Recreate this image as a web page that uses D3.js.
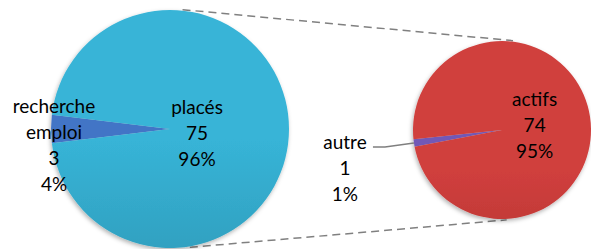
<!DOCTYPE html>
<html>
<head>
  <meta charset="utf-8">
  <title>placés / actifs</title>
  <script src="https://d3js.org/d3.v7.min.js"></script>
  <style>
    body { margin: 0; background: #fff; }
    text { font-family: Lato, "Open Sans", sans-serif; font-size: 19px; fill: #000; }
  </style>
</head>
<body>
<script>
// main pie
var mainCategories = ['recherche emploi', 'placés'];
var mainValues = [3, 75];
var mainPercents = ['4%', '96%'];
// second pie (breakdown of "placés")
var subCategories = ['autre', 'actifs'];
var subValues = [1, 74];
var subPercents = ['1%', '95%'];

var width = 591, height = 249;
var lineH = 26;

var svg = d3.select('body').append('svg')
  .attr('width', width).attr('height', height);

var defs = svg.append('defs');

function grad(id, top, bottom, cy, r) {
  var g = defs.append('linearGradient').attr('id', id)
    .attr('gradientUnits', 'userSpaceOnUse')
    .attr('x1', 0).attr('x2', 0).attr('y1', cy - r).attr('y2', cy + r);
  g.append('stop').attr('offset', '0%').attr('stop-color', top);
  g.append('stop').attr('offset', '100%').attr('stop-color', bottom);
}

var f = defs.append('filter').attr('id', 'shadow')
  .attr('x', '-20%').attr('y', '-20%').attr('width', '140%').attr('height', '140%');
f.append('feDropShadow').attr('dx', -1).attr('dy', 2).attr('stdDeviation', 2)
  .attr('flood-color', '#000').attr('flood-opacity', 0.3);

var left = { cx: 170, cy: 129, r: 119 };
var right = { cx: 502, cy: 130, r: 89 };

grad('gBlue', '#4374c6', '#355fab', left.cy, left.r);
grad('gCyan', '#37b4d7', '#2a8ba7', left.cy, left.r);
grad('gPurple', '#7259b6', '#6247a3', right.cy, right.r);
grad('gRed', '#d03f3d', '#a22d2b', right.cy, right.r);

var mainFill = ['url(#gBlue)', 'url(#gCyan)'];
var subFill = ['url(#gPurple)', 'url(#gRed)'];

// connector lines (dashed)
function pt(c, a, rr) {
  return [c.cx + rr * Math.sin(a), c.cy - rr * Math.cos(a)];
}
var deg = Math.PI / 180;
var conn = [
  [pt(left, 6 * deg, left.r + 1), pt(right, 7 * deg, right.r + 1)],
  [pt(left, 170.5 * deg, left.r + 1), pt(right, 177 * deg, right.r + 1)]
];
svg.selectAll('line.conn').data(conn).enter().append('line')
  .attr('class', 'conn')
  .attr('x1', function(d) { return d[0][0]; })
  .attr('y1', function(d) { return d[0][1]; })
  .attr('x2', function(d) { return d[1][0]; })
  .attr('y2', function(d) { return d[1][1]; })
  .attr('stroke', '#808080').attr('stroke-width', 1.5)
  .attr('stroke-dasharray', '8,5');

// main pie, small slice centred on the left
var mainTotal = d3.sum(mainValues);
var a0 = mainValues[0] / mainTotal * 2 * Math.PI;
var pieMain = d3.pie().sort(null)
  .startAngle(1.5 * Math.PI - a0 / 2).endAngle(3.5 * Math.PI - a0 / 2);
var arcMain = d3.arc().innerRadius(0).outerRadius(left.r);

var gL = svg.append('g').attr('transform', 'translate(' + left.cx + ',' + left.cy + ')');
gL.append('g').attr('filter', 'url(#shadow)')
  .selectAll('path').data(pieMain(mainValues)).enter().append('path')
  .attr('d', arcMain)
  .attr('fill', function(d, i) { return mainFill[i]; });

// second pie, "autre" slice pointing left and slightly down
var subTotal = d3.sum(subValues);
var b0 = subValues[0] / subTotal * 2 * Math.PI;
var subMid = 261.6 * deg;
var pieSub = d3.pie().sort(null)
  .startAngle(subMid - b0 / 2).endAngle(subMid - b0 / 2 + 2 * Math.PI);
var arcSub = d3.arc().innerRadius(0).outerRadius(right.r);

var gR = svg.append('g').attr('transform', 'translate(' + right.cx + ',' + right.cy + ')');
gR.append('g').attr('filter', 'url(#shadow)')
  .selectAll('path').data(pieSub(subValues)).enter().append('path')
  .attr('d', arcSub)
  .attr('fill', function(d, i) { return subFill[i]; });

// labels
function label(g, x, y, lines) {
  var t = g.append('text').attr('text-anchor', 'middle');
  var y0 = y - (lines.length - 1) * lineH / 2;
  lines.forEach(function(s, i) {
    t.append('tspan').attr('x', x).attr('y', y0 + i * lineH).attr('dy', '0.35em').text(s);
  });
}

var mArcs = pieMain(mainValues);
var sArcs = pieSub(subValues);

// inside labels at the centroid of a small ring
var inMain = d3.arc().innerRadius(27).outerRadius(27);
var inSub = d3.arc().innerRadius(33).outerRadius(33);
var cM = inMain.centroid(mArcs[1]);
label(gL, cM[0], cM[1] + 4, [mainCategories[1], mainValues[1], mainPercents[1]]);
var cS = inSub.centroid(sArcs[1]);
label(gR, cS[0], cS[1], [subCategories[1], subValues[1], subPercents[1]]);

// "recherche emploi" label near the left edge
var edgeMain = d3.arc().innerRadius(left.r - 3).outerRadius(left.r - 3);
var cE = edgeMain.centroid(mArcs[0]);
var words = mainCategories[0].split(' ');
label(gL, cE[0], cE[1] + 16, [words[0], words[1], mainValues[0], mainPercents[0]]);

// "autre" label with leader line
var edgeSub = d3.arc().innerRadius(right.r).outerRadius(right.r);
var cA = edgeSub.centroid(sArcs[0]);
var lx = cA[0] - 41, ly = cA[1] + 4;
gR.append('path')
  .attr('d', 'M' + lx + ',' + ly + 'L' + (lx + 12) + ',' + ly + 'L' + cA[0] + ',' + cA[1])
  .attr('fill', 'none').attr('stroke', '#7f7f7f').attr('stroke-width', 1.3);
label(gR, lx - 28, ly + 21, [subCategories[0], subValues[0], subPercents[0]]);
</script>
</body>
</html>
